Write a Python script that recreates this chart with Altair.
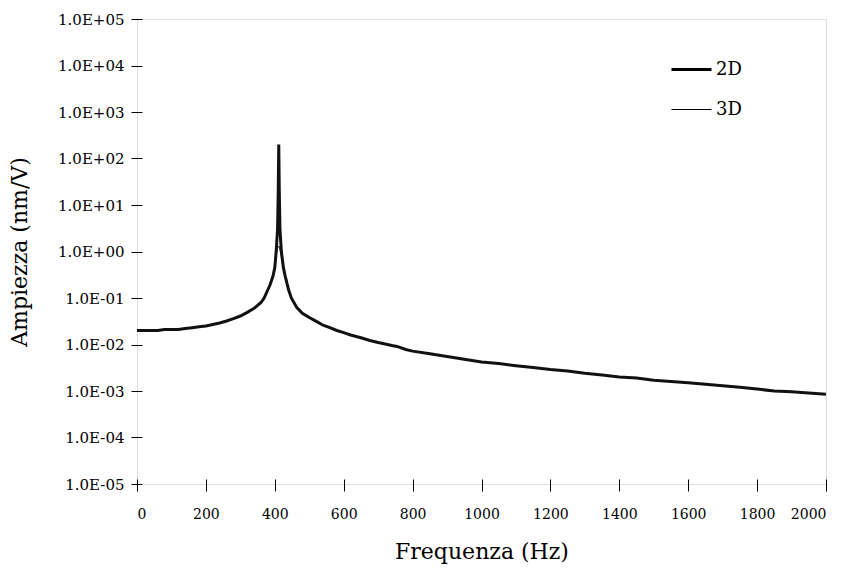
import altair as alt
import pandas as pd

freq_2d = [0, 20, 40, 60, 80, 100, 120, 140, 160, 180, 200, 220, 240, 260, 280, 300, 320, 340,
           360, 369, 386, 395, 400, 404, 408, 410, 411.5, 413, 415, 419, 425, 430, 440, 448, 464,
           480, 500, 522, 540, 560, 580, 600, 620, 650, 676, 700, 740, 755, 780, 800, 850, 900,
           950, 1000, 1050, 1100, 1150, 1200, 1250, 1300, 1350, 1400, 1450, 1500, 1550, 1600,
           1650, 1700, 1750, 1800, 1850, 1900, 1950, 2000]
amp_2d = [0.020, 0.020, 0.020, 0.020, 0.021, 0.021, 0.021, 0.022, 0.023, 0.024, 0.025, 0.027,
          0.029, 0.032, 0.036, 0.041, 0.049, 0.060, 0.080, 0.10, 0.19, 0.30, 0.45, 1.0, 3.0, 20,
          200, 20, 3.0, 1.0, 0.45, 0.30, 0.15, 0.10, 0.062, 0.047, 0.038, 0.031, 0.026, 0.023,
          0.020, 0.018, 0.016, 0.014, 0.0122, 0.011, 0.0095, 0.0091, 0.0078, 0.0072, 0.0063,
          0.0055, 0.0048, 0.0042, 0.0039, 0.0035, 0.0032, 0.0029, 0.0027, 0.0024, 0.0022,
          0.0020, 0.0019, 0.0017, 0.0016, 0.0015, 0.0014, 0.0013, 0.0012, 0.0011, 0.0010,
          0.00096, 0.00091, 0.00085]

freq_3d = [0, 20, 40, 60, 80, 100, 120, 140, 160, 180, 200, 220, 240, 260, 280, 300, 320, 340,
           360, 369, 386, 395, 400, 404, 408, 412, 415, 419, 425, 430, 440, 448, 464,
           480, 500, 522, 540, 560, 580, 600, 620, 650, 676, 700, 740, 755, 780, 800, 850, 900,
           950, 1000, 1050, 1100, 1150, 1200, 1250, 1300, 1350, 1400, 1450, 1500, 1550, 1600,
           1650, 1700, 1750, 1800, 1850, 1900, 1950, 2000]
amp_3d = [0.020, 0.020, 0.020, 0.020, 0.021, 0.021, 0.021, 0.022, 0.023, 0.024, 0.025, 0.027,
          0.029, 0.032, 0.036, 0.041, 0.049, 0.060, 0.080, 0.10, 0.19, 0.30, 0.44, 0.85, 1.2,
          1.3, 1.1, 0.8, 0.42, 0.29, 0.15, 0.10, 0.062, 0.047, 0.038, 0.031, 0.026, 0.023,
          0.020, 0.018, 0.016, 0.014, 0.0122, 0.011, 0.0095, 0.0091, 0.0078, 0.0072, 0.0063,
          0.0055, 0.0048, 0.0042, 0.0039, 0.0035, 0.0032, 0.0029, 0.0027, 0.0024, 0.0022,
          0.0020, 0.0019, 0.0017, 0.0016, 0.0015, 0.0014, 0.0013, 0.0012, 0.0011, 0.0010,
          0.00096, 0.00091, 0.00085]

series = ["2D", "3D"]
y_ticks = [1e-5, 1e-4, 1e-3, 1e-2, 1e-1, 1e0, 1e1, 1e2, 1e3, 1e4, 1e5]
x_ticks = list(range(0, 2001, 200))

df = pd.concat([
    pd.DataFrame({"f": freq_2d, "a": amp_2d, "s": "2D", "o": range(len(freq_2d))}),
    pd.DataFrame({"f": freq_3d, "a": amp_3d, "s": "3D", "o": range(len(freq_3d))}),
])

FONT = "DejaVu Serif"
exp_expr = "round(log(datum.value)/LN10)"
label_expr = f"'1.0E' + ({exp_expr} < 0 ? '-' : '+') + '0' + abs({exp_expr})"

x_scale = alt.Scale(domain=[0, 2000], nice=False, zero=False)
y_scale = alt.Scale(type="log", domain=[1e-5, 1e5], nice=False)

chart = alt.Chart(df).mark_line(color="#111111", strokeCap="butt").encode(
    x=alt.X("f:Q", scale=x_scale,
            axis=alt.Axis(title="Frequenza (Hz)", orient="bottom", values=x_ticks, format="d",
                          grid=False, domain=False, offset=-5, tickSize=12, tickColor="black",
                          labelFont=FONT, labelFontSize=14, labelColor="black", labelPadding=16,
                          titleFont=FONT, titleFontSize=22, titleFontWeight="normal",
                          titleColor="black", titlePadding=20)),
    y=alt.Y("a:Q", scale=y_scale,
            axis=alt.Axis(title="Ampiezza (nm/V)", orient="left", values=y_ticks,
                          labelExpr=label_expr, grid=False, domain=False, offset=-5,
                          tickSize=11, tickColor="black", labelFont=FONT, labelFontSize=15,
                          labelColor="black", labelPadding=7,
                          titleFont=FONT, titleFontSize=22, titleFontWeight="normal",
                          titleColor="black", titlePadding=26)),
    strokeWidth=alt.StrokeWidth("s:N", scale=alt.Scale(domain=series, range=[3, 1]),
                                legend=alt.Legend(title=None, orient="none", legendX=533,
                                                  legendY=29, symbolType="stroke",
                                                  symbolSize=1600, symbolStrokeColor="black",
                                                  labelFont=FONT, labelFontSize=18,
                                                  labelColor="black", labelOffset=3,
                                                  rowPadding=10, padding=0)),
    order="o:Q",
).properties(
    width=689, height=465,
    autosize=alt.AutoSizeParams(type="none"),
    padding={"left": 129, "top": 11, "right": 10, "bottom": 80},
).configure_view(stroke="black", strokeWidth=1).configure(background="white")

chart.save("out.html", embed_options={"renderer": "svg", "actions": False})
